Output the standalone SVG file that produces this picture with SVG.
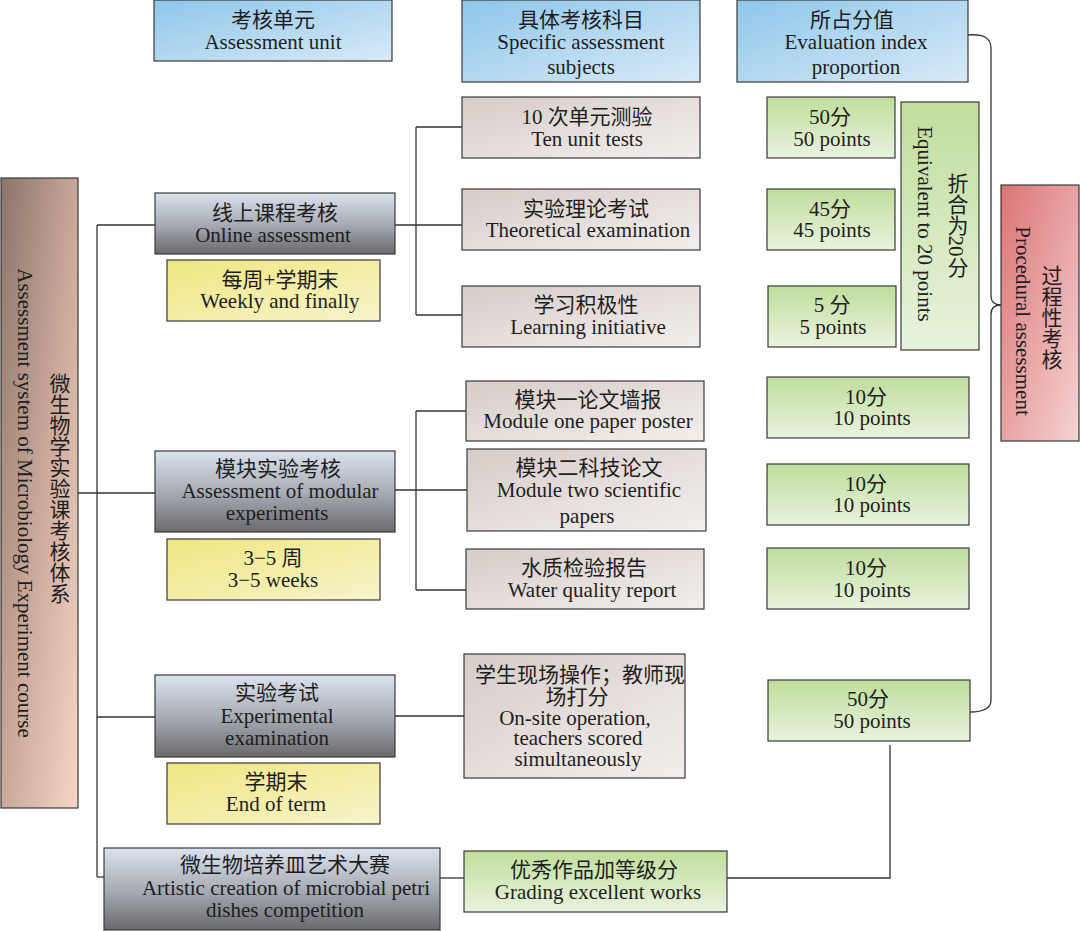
<svg xmlns="http://www.w3.org/2000/svg" width="1080" height="931" viewBox="0 0 1080 931">
<defs>
<linearGradient id="gBlue" x1="0" y1="0" x2="1" y2="1"><stop offset="0" stop-color="#8ec6ea"/><stop offset="1" stop-color="#d8eaf7"/></linearGradient>
<linearGradient id="gGray" x1="0" y1="0" x2="0" y2="1"><stop offset="0" stop-color="#dbe3ee"/><stop offset="0.5" stop-color="#a9adb5"/><stop offset="1" stop-color="#6a6a6e"/></linearGradient>
<linearGradient id="gYel" x1="0" y1="0" x2="1" y2="1"><stop offset="0" stop-color="#efe680"/><stop offset="1" stop-color="#f8f4cc"/></linearGradient>
<linearGradient id="gPink" x1="0" y1="0" x2="1" y2="1"><stop offset="0" stop-color="#d6ccc8"/><stop offset="1" stop-color="#f3efee"/></linearGradient>
<linearGradient id="gGreen" x1="0" y1="0" x2="0" y2="1"><stop offset="0" stop-color="#c0dd9c"/><stop offset="1" stop-color="#e9f3de"/></linearGradient>
<linearGradient id="gBrown" x1="0" y1="0" x2="1" y2="1"><stop offset="0" stop-color="#8a746a"/><stop offset="0.5" stop-color="#c9a89a"/><stop offset="1" stop-color="#f8d6c6"/></linearGradient>
<linearGradient id="gRed" x1="0" y1="0" x2="1" y2="1"><stop offset="0" stop-color="#dc7475"/><stop offset="1" stop-color="#f5d3d3"/></linearGradient>
</defs>
<style>
rect{stroke:#3a3a3a;stroke-width:1.2}
text{font-family:"Liberation Serif","Noto Sans CJK SC",serif;font-size:21px;fill:#1e1e1e;text-anchor:middle;dominant-baseline:central}
.v{writing-mode:vertical-rl}
#connectors path{fill:none;stroke:#333;stroke-width:1.3}
</style>
<g id="connectors">
<path d="M78,493 H155"/>
<path d="M97,225 V877"/>
<path d="M97,225 H155"/>
<path d="M97,717 H155"/>
<path d="M97,877 H104"/>
<path d="M395,225 H462"/>
<path d="M416,127 V315"/>
<path d="M416,127 H462"/>
<path d="M416,315 H462"/>
<path d="M395,490 H467"/>
<path d="M416,411 V590"/>
<path d="M416,411 H466"/>
<path d="M416,590 H466"/>
<path d="M395,716 H464"/>
<path d="M440,878 H464"/>
<path d="M727,878 H890 V745"/>
<path d="M968,35 Q991,33 991,48 V296 Q991,305 1001,305 Q991,305 991,314 V700 Q991,712 970,712"/>
</g>
<g id="h1"><rect x="154" y="0" width="238" height="61" fill="url(#gBlue)"/><text x="273" y="20">考核单元</text><text x="273" y="42">Assessment unit</text></g>
<g id="h2"><rect x="462" y="0" width="238" height="82" fill="url(#gBlue)"/><text x="581" y="20">具体考核科目</text><text x="581" y="42">Specific assessment</text><text x="581" y="67">subjects</text></g>
<g id="h3"><rect x="737" y="0" width="231" height="82" fill="url(#gBlue)"/><text x="852" y="20">所占分值</text><text x="856" y="42">Evaluation index</text><text x="856" y="67">proportion</text></g>
<g id="root"><rect x="1" y="178" width="77" height="630" fill="url(#gBrown)"/><text class="v" x="58" y="488">微生物学实验课考核体系</text><text transform="translate(25,503) rotate(90)">Assessment system of Microbiology Experiment course</text></g>
<g id="u1"><rect x="155" y="193" width="240" height="61" fill="url(#gGray)"/><text x="275" y="213">线上课程考核</text><text x="273" y="235">Online assessment</text></g>
<g id="u2"><rect x="155" y="451" width="240" height="81" fill="url(#gGray)"/><text x="278" y="469">模块实验考核</text><text x="280" y="491">Assessment of modular</text><text x="277" y="513">experiments</text></g>
<g id="u3"><rect x="155" y="675" width="240" height="82" fill="url(#gGray)"/><text x="277" y="693">实验考试</text><text x="277" y="716">Experimental</text><text x="277" y="738">examination</text></g>
<g id="u4"><rect x="104" y="848" width="336" height="82" fill="url(#gGray)"/><text x="285" y="865">微生物培养皿艺术大赛</text><text x="286" y="888">Artistic creation of microbial petri</text><text x="285" y="910">dishes competition</text></g>
<g id="y1"><rect x="167" y="260" width="213" height="61" fill="url(#gYel)"/><text x="280" y="280">每周+学期末</text><text x="280" y="301">Weekly and finally</text></g>
<g id="y2"><rect x="167" y="539" width="213" height="61" fill="url(#gYel)"/><text x="273" y="558">3−5 周</text><text x="273" y="580">3−5 weeks</text></g>
<g id="y3"><rect x="167" y="763" width="213" height="61" fill="url(#gYel)"/><text x="276" y="782">学期末</text><text x="276" y="804">End of term</text></g>
<g id="s1"><rect x="462" y="97" width="238" height="61" fill="url(#gPink)"/><text x="587" y="117">10 次单元测验</text><text x="587" y="139">Ten unit tests</text></g>
<g id="s2"><rect x="462" y="189" width="238" height="61" fill="url(#gPink)"/><text x="586" y="209">实验理论考试</text><text x="588" y="230">Theoretical examination</text></g>
<g id="s3"><rect x="462" y="286" width="238" height="61" fill="url(#gPink)"/><text x="586" y="305">学习积极性</text><text x="588" y="327">Learning initiative</text></g>
<g id="s4"><rect x="466" y="381" width="238" height="60" fill="url(#gPink)"/><text x="588" y="400">模块一论文墙报</text><text x="588" y="421">Module one paper poster</text></g>
<g id="s5"><rect x="467" y="449" width="239" height="82" fill="url(#gPink)"/><text x="589" y="468">模块二科技论文</text><text x="589" y="490">Module two scientific</text><text x="587" y="516">papers</text></g>
<g id="s6"><rect x="466" y="549" width="238" height="60" fill="url(#gPink)"/><text x="584" y="568">水质检验报告</text><text x="592" y="590">Water quality report</text></g>
<g id="s7"><rect x="464" y="654" width="221" height="124" fill="url(#gPink)"/><text x="580" y="675">学生现场操作；教师现</text><text x="577" y="697">场打分</text><text x="575" y="718">On-site  operation,</text><text x="578" y="738">teachers scored</text><text x="578" y="759">simultaneously</text></g>
<g id="p1"><rect x="767" y="97" width="128" height="61" fill="url(#gGreen)"/><text x="830" y="117">50分</text><text x="832" y="139">50 points</text></g>
<g id="p2"><rect x="767" y="189" width="128" height="61" fill="url(#gGreen)"/><text x="830" y="209">45分</text><text x="832" y="230">45 points</text></g>
<g id="p3"><rect x="768" y="286" width="128" height="61" fill="url(#gGreen)"/><text x="832" y="305">5 分</text><text x="833" y="327">5 points</text></g>
<g id="p20"><rect x="901" y="102" width="78" height="248" fill="url(#gGreen)"/><text class="v" x="956" y="225">折合为20分</text><text transform="translate(925,224) rotate(90)">Equivalent to 20 points</text></g>
<g id="p4"><rect x="767" y="377" width="202" height="61" fill="url(#gGreen)"/><text x="866" y="397">10分</text><text x="872" y="418">10 points</text></g>
<g id="p5"><rect x="767" y="464" width="202" height="61" fill="url(#gGreen)"/><text x="866" y="484">10分</text><text x="872" y="505">10 points</text></g>
<g id="p6"><rect x="767" y="548" width="202" height="61" fill="url(#gGreen)"/><text x="866" y="568">10分</text><text x="872" y="590">10 points</text></g>
<g id="p7"><rect x="768" y="680" width="202" height="61" fill="url(#gGreen)"/><text x="868" y="699">50分</text><text x="872" y="721">50 points</text></g>
<g id="g1"><rect x="464" y="851" width="263" height="61" fill="url(#gGreen)"/><text x="594" y="870">优秀作品加等级分</text><text x="598" y="892">Grading excellent works</text></g>
<g id="proc"><rect x="1001" y="185" width="78" height="256" fill="url(#gRed)"/><text class="v" x="1050" y="317">过程性考核</text><text transform="translate(1023,321) rotate(90)">Procedural assessment</text></g>
</svg>
